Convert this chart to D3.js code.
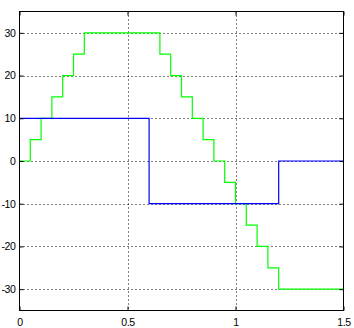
<!DOCTYPE html>
<html>
<head>
<meta charset="utf-8">
<script src="https://cdn.jsdelivr.net/npm/d3@7"></script>
<style>
  body { margin: 0; background: #fff; }
  svg { display: block; }
</style>
</head>
<body>
<div id="chart"></div>
<script>
// step signals, value holds from t[i] to t[i+1]
const greenT = [0, 0.05, 0.1, 0.15, 0.2, 0.25, 0.3, 0.65, 0.7, 0.75, 0.8, 0.85, 0.9, 0.95, 1.0, 1.05, 1.1, 1.15, 1.2, 1.5]
const greenY = [0, 5, 10, 15, 20, 25, 30, 25, 20, 15, 10, 5, 0, -5, -10, -15, -20, -25, -30, -30]
const blueT = [0, 0.6, 1.2, 1.5]
const blueY = [10, -10, 0, 0]
const xTicks = [0, 0.5, 1, 1.5]
const yTicks = [-30, -20, -10, 0, 10, 20, 30]

const width = 354, height = 328
const margin = { top: 11.5, right: 10.5, bottom: 17.5, left: 19.5 }

const svg = d3.select('#chart').append('svg')
    .attr('width', width)
    .attr('height', height)

const x = d3.scaleLinear()
    .domain([0, 1.5])
    .range([margin.left, width - margin.right])

const y = d3.scaleLinear()
    .domain([-35, 35])
    .range([height - margin.bottom, margin.top])

// dotted grid
const grid = svg.append('g')
    .attr('stroke', '#000')
    .attr('stroke-width', 1)
    .attr('stroke-dasharray', '1,3')
grid.selectAll('line.v')
    .data(xTicks.slice(1, -1))
    .join('line')
    .attr('x1', d => Math.round(x(d)) + 0.5)
    .attr('x2', d => Math.round(x(d)) + 0.5)
    .attr('y1', margin.top)
    .attr('y2', height - margin.bottom)
grid.selectAll('line.h')
    .data(yTicks)
    .join('line')
    .attr('x1', margin.left)
    .attr('x2', width - margin.right)
    .attr('y1', d => Math.round(y(d)) + 0.5)
    .attr('y2', d => Math.round(y(d)) + 0.5)

const line = d3.line()
    .x(d => x(d[0]))
    .y(d => y(d[1]))
    .curve(d3.curveStepAfter)

svg.append('path')
    .datum(greenT.map((t, i) => [t, greenY[i]]))
    .attr('fill', 'none')
    .attr('stroke', '#00ff00')
    .attr('stroke-width', 1.2)
    .attr('d', line)

svg.append('path')
    .datum(blueT.map((t, i) => [t, blueY[i]]))
    .attr('fill', 'none')
    .attr('stroke', '#0000ff')
    .attr('stroke-width', 1.2)
    .attr('d', line)

// axes with inward ticks on all four sides
function styleAxis(g) {
    g.select('.domain').remove()
    g.selectAll('line').attr('stroke', '#000')
    g.selectAll('text')
        .attr('font-family', 'Liberation Sans, Arial, sans-serif')
        .attr('font-size', '10.5px')
        .attr('letter-spacing', '-0.4px')
        .attr('fill', '#000')
}

const plain = d => String(d)   // keep ascii hyphen for negatives

svg.append('g')
    .attr('transform', `translate(0,${height - margin.bottom})`)
    .call(d3.axisBottom(x).tickValues(xTicks).tickFormat(plain).tickSizeInner(-4).tickPadding(8))
    .call(styleAxis)
svg.append('g')
    .attr('transform', `translate(0,${margin.top})`)
    .call(d3.axisTop(x).tickValues(xTicks).tickFormat('').tickSizeInner(-4))
    .call(styleAxis)
svg.append('g')
    .attr('transform', `translate(${margin.left},0)`)
    .call(d3.axisLeft(y).tickValues(yTicks).tickFormat(plain).tickSizeInner(-4).tickPadding(4))
    .call(styleAxis)
svg.append('g')
    .attr('transform', `translate(${width - margin.right},0)`)
    .call(d3.axisRight(y).tickValues(yTicks).tickFormat('').tickSizeInner(-4))
    .call(styleAxis)

svg.append('rect')
    .attr('x', margin.left)
    .attr('y', margin.top)
    .attr('width', width - margin.left - margin.right)
    .attr('height', height - margin.top - margin.bottom)
    .attr('fill', 'none')
    .attr('stroke', '#000')
    .attr('stroke-width', 1)
</script>
</body>
</html>
